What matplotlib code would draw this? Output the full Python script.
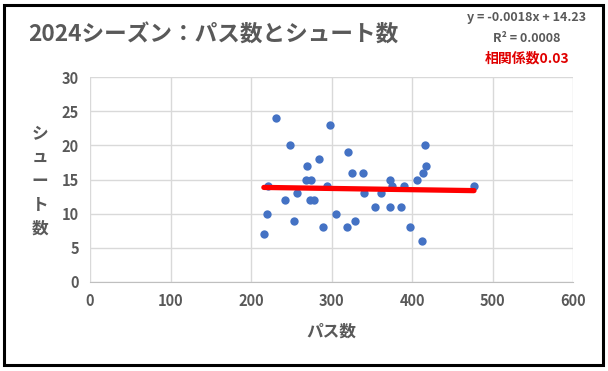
import numpy as np
import matplotlib
matplotlib.use("Agg")
import matplotlib.pyplot as plt
from matplotlib.patches import Rectangle

plt.rcParams['font.family'] = ['Noto Sans CJK JP', 'DejaVu Sans']

# パス数 / シュート数
passes = [231, 298, 249, 320, 284, 270, 268, 275, 221, 295, 242, 257, 273, 278,
          220, 306, 253, 289, 319, 216, 416, 418, 414, 326, 339, 373, 406, 375,
          390, 477, 340, 361, 354, 373, 386, 329, 398, 412]
shots = [24, 23, 20, 19, 18, 17, 15, 15, 14, 14, 12, 13, 12, 12,
         10, 10, 9, 8, 8, 7, 20, 17, 16, 16, 16, 15, 15, 14,
         14, 14, 13, 13, 11, 11, 11, 9, 8, 6]

slope = -0.0018
intercept = 14.23
eq_text = "y = -0.0018x + 14.23"
r2_text = "R² = 0.0008"
corr_text = "相関係数0.03"

gray = '#595959'

fig = plt.figure(figsize=(6.08, 3.71), dpi=100)
ax = fig.add_axes([90/608, 89/371, 483/608, 205/371])

ax.scatter(passes, shots, s=36, color='#4472C4', zorder=3, linewidths=0)
xs = np.array([min(passes), max(passes)])
ax.plot(xs, slope*xs + intercept, color='#FF0000', lw=3.8, zorder=4,
        solid_capstyle='round')

ax.set_xlim(0, 600)
ax.set_ylim(0, 30)
ax.set_xticks(range(0, 601, 100))
ax.set_yticks(range(0, 31, 5))
ax.grid(True, color='#D9D9D9', lw=1)
ax.set_axisbelow(True)
for s in ['top', 'right', 'left']:
    ax.spines[s].set_visible(False)
ax.spines['bottom'].set_color('#BFBFBF')
ax.tick_params(length=0, colors=gray, labelsize=10.5, pad=8)
for lab in ax.get_xticklabels() + ax.get_yticklabels():
    lab.set_fontweight('bold')

ax.set_xlabel("パス数", fontsize=12, fontweight='bold', color=gray, labelpad=10)
fig.text(40/608, 1-181/371, "シ\nュ\nー\nト\n数", fontsize=12, fontweight='bold',
         color=gray, ha='center', va='center', linespacing=1.4)

fig.text(28/608, 1-35/371, "2024シーズン：パス数とシュート数", fontsize=16.3,
         fontweight='bold', color=gray, ha='left', va='center')
fig.text(527/608, 1-18/371, eq_text, fontsize=9, fontweight='bold', color=gray,
         ha='center', va='center')
fig.text(527/608, 1-38/371, r2_text, fontsize=9, fontweight='bold', color=gray,
         ha='center', va='center')
fig.text(527/608, 1-58/371, corr_text, fontsize=10, fontweight='bold',
         color='#E00000', ha='center', va='center')

fig.patches.append(Rectangle((4/608, 1-365/371), 599/608, 360/371,
                             transform=fig.transFigure, fill=False,
                             edgecolor='black', lw=2.2))

fig.savefig("out.png", dpi=100)
